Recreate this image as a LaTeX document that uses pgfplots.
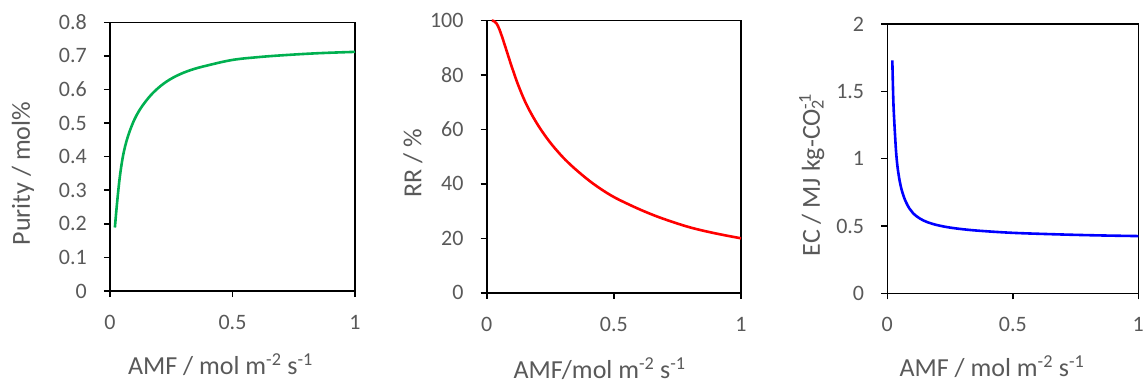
\documentclass[border=0pt]{standalone}
\usepackage{fontspec}
\setmainfont{Carlito}
\usepackage{pgfplots}
\pgfplotsset{compat=1.18}
\definecolor{txt}{HTML}{595959}
\definecolor{exgreen}{HTML}{00B050}
\pgfplotsset{
  panel/.style={
    scale only axis, anchor=south west,
    xmin=0, xmax=1, xtick={0,0.5,1},
    clip=false,
    axis line style={black, line width=1.6pt},
    tick style={black, line width=1.6pt},
    tick align=outside, major tick length=6pt,
    xtick pos=bottom, ytick pos=left,
    ticklabel style={font=\fontsize{22}{24}\selectfont, text=txt, inner sep=0pt},
    label style={font=\fontsize{26}{30}\selectfont, text=txt, inner sep=0pt},
    /pgf/number format/assume math mode=true,
    /pgf/number format/fixed,
    yticklabel style={anchor=east, xshift=-17pt},
    xticklabel style={anchor=north, yshift=-18pt},
  }
}
\begin{document}
\begin{tikzpicture}
\path[use as bounding box] (0pt,0pt) rectangle (1148pt,383pt);
% Panel 1
\begin{axis}[panel, at={(110pt,92pt)}, width=245pt, height=268.7pt,
  ymin=0, ymax=0.8, ytick={0,0.1,...,0.8},
  xlabel={AMF / mol m\textsuperscript{-2} s\textsuperscript{-1}},
  ylabel={Purity / mol\%},
  xlabel style={at={(axis description cs:0.451,-0.275)}, anchor=center},
  ylabel style={at={(axis description cs:-0.355,0.437)}, anchor=center},
]
\addplot[exgreen, line width=2.6pt, smooth, tension=0.6] coordinates {
(0.020,0.189) (0.025,0.232) (0.030,0.271) (0.035,0.307) (0.041,0.345)
(0.049,0.385) (0.057,0.416) (0.068,0.448) (0.082,0.479) (0.100,0.511)
(0.120,0.538) (0.145,0.564) (0.177,0.591) (0.220,0.618) (0.270,0.640)
(0.330,0.658) (0.400,0.672) (0.500,0.688) (0.600,0.696) (0.707,0.702)
(0.850,0.708) (1.000,0.712)};
\end{axis}
% Panel 2
\begin{axis}[panel, at={(486.7pt,90.3pt)}, width=254.3pt, height=272pt,
  ymin=0, ymax=100, ytick={0,20,...,100},
  xlabel={AMF/mol m\textsuperscript{-2} s\textsuperscript{-1}},
  ylabel={RR / \%},
  xlabel style={at={(axis description cs:0.444,-0.28)}, anchor=center},
  ylabel style={at={(axis description cs:-0.29,0.477)}, anchor=center},
]
\addplot[red, line width=2.6pt, smooth, tension=0.6] coordinates {
(0.020,100) (0.030,99.8) (0.040,98.8) (0.050,96.8) (0.060,94.2)
(0.075,89.9) (0.090,85.5) (0.105,81.3) (0.120,77.3) (0.140,72.6)
(0.160,68.5) (0.185,64.2) (0.210,60.4) (0.240,56.4) (0.270,52.9)
(0.310,48.8) (0.360,44.5) (0.420,40.0) (0.490,35.7) (0.560,32.4)
(0.630,29.5) (0.700,27.0) (0.800,24.0) (0.900,21.8) (1.000,20.0)};
\end{axis}
% Panel 3
\begin{axis}[panel, at={(887.3pt,89.7pt)}, width=251pt, height=269.3pt,
  ymin=0, ymax=2, ytick={0,0.5,...,2},
  xlabel={AMF / mol m\textsuperscript{-2} s\textsuperscript{-1}},
  ylabel={EC / MJ kg-CO\rlap{\textsubscript{2}}\textsuperscript{-1}},
  xlabel style={at={(axis description cs:0.417,-0.274)}, anchor=center},
  ylabel style={at={(axis description cs:-0.301,0.439)}, anchor=center},
]
\addplot[blue, line width=2.6pt, smooth, tension=0.6] coordinates {
(0.020,1.73) (0.024,1.433) (0.028,1.27) (0.031,1.17) (0.035,1.05)
(0.040,0.950) (0.046,0.870) (0.053,0.800) (0.062,0.738) (0.073,0.683)
(0.088,0.630) (0.104,0.592) (0.130,0.555) (0.160,0.528) (0.200,0.506)
(0.250,0.488) (0.320,0.472) (0.400,0.460) (0.500,0.449) (0.620,0.441)
(0.750,0.434) (0.870,0.429) (1.000,0.425)};
\end{axis}
\end{tikzpicture}
\end{document}
